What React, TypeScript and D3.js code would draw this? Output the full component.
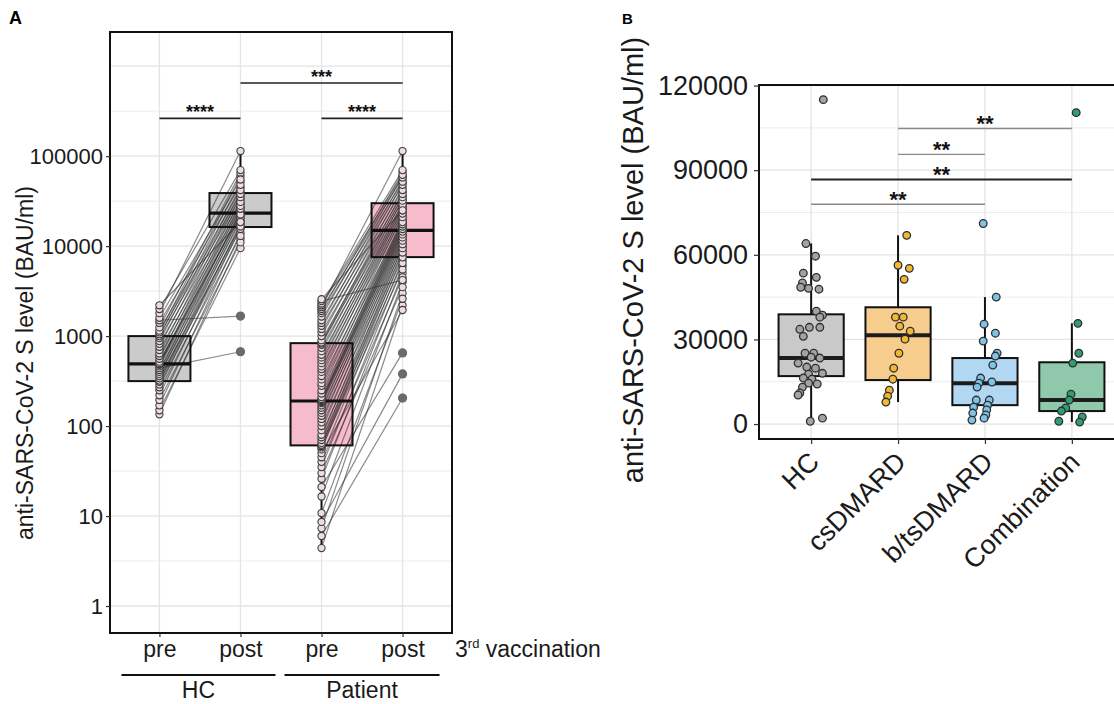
import React, { useEffect, useRef } from "react";
import * as d3 from "d3";

const W = 1114;
const H = 704;
const FONT = "'Liberation Sans', Arial, Helvetica, sans-serif";

// ---- Panel A: paired pre/post 3rd vaccination (log scale) ----
const categoriesA = ["HC pre", "HC post", "Patient pre", "Patient post"];
const tickLabelsA = ["pre", "post", "pre", "post"];
const groupLabelsA = ["HC", "Patient"];
const yTicksA = [1, 10, 100, 1000, 10000, 100000];

const hcPre = [
  135, 150, 170, 195, 220, 250, 270, 290, 310, 320, 340, 360, 380, 400, 420,
  440, 460, 480, 490, 500, 520, 560, 600, 640, 700, 760, 820, 880, 950, 1000,
  1050, 1100, 1150, 1250, 1400, 1500, 1600, 1800, 2000, 2200,
];
const hcPost = [
  12000, 9500, 14000, 11000, 16000, 13000, 18000, 15500, 17000, 20000, 16500,
  22000, 19000, 25000, 21000, 670, 23000, 27000, 24000, 30000, 22500, 33000,
  26000, 36000, 28000, 40000, 31000, 45000, 35000, 52000, 38000, 60000, 42000,
  65000, 48000, 1670, 55000, 114000, 70000, 18500,
];
const patientPre = [
  4.4, 6, 7.3, 8.6, 10.8, 16.5, 21, 26, 30, 35, 40, 45, 50, 55, 58, 60, 62, 65,
  70, 75, 80, 90, 100, 110, 120, 130, 140, 150, 160, 170, 180, 185, 190, 195,
  200, 210, 230, 250, 280, 300, 330, 360, 400, 430, 460, 500, 540, 580, 620,
  680, 740, 800, 830, 850, 900, 1000, 1100, 1200, 1300, 1400, 1500, 1650, 1800,
  1900, 2000, 2100, 2200, 2300, 2450, 2570,
];
const patientPost = [
  2200, 205, 3000, 380, 2600, 4000, 650, 5000, 3500, 6000, 4500, 7000, 1950,
  8000, 5500, 9000, 6500, 10000, 7500, 11000, 8500, 12000, 9500, 13000, 10500,
  14000, 11500, 15000, 12500, 16000, 13500, 17000, 14500, 18000, 15500, 19000,
  16500, 20000, 17500, 22000, 18500, 24000, 21000, 26000, 23000, 28000, 25000,
  30000, 27000, 33000, 29000, 36000, 32000, 40000, 35000, 45000, 38000, 50000,
  42000, 55000, 48000, 60000, 52000, 66000, 58000, 114000, 62000, 70000, 4200,
  25000,
];
// [lower whisker, q1, median, q3, upper whisker]
const boxStatsA = [
  [135, 316, 490, 1000, 2200],
  [9500, 16300, 23300, 38900, 114000],
  [4.4, 61, 190, 835, 2570],
  [1950, 7550, 15000, 30000, 114000],
];
const sigFromA = ["HC pre", "HC post", "Patient pre"];
const sigToA = ["HC post", "Patient post", "Patient post"];
const sigValueA = [263000, 650000, 263000];
const sigLabelA = ["****", "***", "****"];

// ---- Panel B: by treatment group (linear scale) ----
const groupsB = ["HC", "csDMARD", "b/tsDMARD", "Combination"];
const yTicksB = [0, 30000, 60000, 90000, 120000];
const hcValuesB = [
  115000, 64000, 59500, 53500, 52000, 50000, 48500, 48100, 47800, 40000, 38600,
  37900, 34300, 34300, 33600, 31100, 25100, 25100, 23700, 23400, 21600, 20200,
  19800, 18000, 17700, 16300, 15900, 14500, 14200, 13100, 11000, 10300, 1000,
  2100,
];
const hcJitterB = [
  0.14, -0.06, 0.05, -0.09, 0.06, -0.1, -0.12, -0.03, 0.09, 0.06, 0.13, 0.1,
  -0.02, 0.1, -0.13, -0.09, -0.07, 0.03, 0, 0.1, -0.15, -0.05, 0.05, 0.13,
  -0.03, -0.09, 0.01, -0.03, 0.07, -0.1, -0.13, -0.15, -0.01, 0.13,
];
const csValuesB = [
  66900, 56300, 55200, 51300, 37900, 37900, 34700, 32900, 30100, 25100, 19800,
  15900, 12000, 9900, 7800,
];
const csJitterB = [
  0.1, 0, 0.13, 0.07, -0.03, 0.06, 0.02, 0.14, 0.08, 0.01, -0.05, -0.06, -0.1,
  -0.12, -0.14,
];
const btsValuesB = [
  71100, 45000, 35400, 32200, 29400, 25100, 24100, 20900, 16300, 14900, 14500,
  13100, 8500, 8500, 6700, 6000, 5000, 3900, 3200, 1400, 2100,
];
const btsJitterB = [
  -0.02, 0.13, -0.01, 0.12, -0.02, 0.14, 0.12, 0.09, -0.05, 0.08, -0.07, -0.09,
  -0.1, 0.05, 0.03, -0.13, 0.02, -0.14, 0.01, -0.15, -0.01,
];
const comboValuesB = [110400, 35700, 25100, 21600, 10600, 8500, 5700, 4600, 1000, 2500, 700];
const comboJitterB = [0.05, 0.07, 0.08, 0.01, -0.01, -0.03, -0.07, -0.12, -0.15, 0.12, 0.09];
const boxStatsB = [
  [1000, 17000, 23400, 38900, 64000],
  [7800, 15600, 31500, 41400, 66900],
  [1400, 6700, 14500, 23400, 45000],
  [700, 4600, 8500, 21900, 35700],
];
const sigFromB = ["HC", "HC", "csDMARD", "csDMARD"];
const sigToB = ["b/tsDMARD", "Combination", "b/tsDMARD", "Combination"];
const sigValueB = [77900, 86700, 95600, 104800];
const sigLabelB = ["**", "**", "**", "**"];

// styles
const boxFillA = ["#cbcbcb", "#cbcbcb", "#f6bccb", "#f6bccb"];
const boxFillB = ["#c9c9c9", "#f6cd8c", "#b2d7f2", "#8fc8ab"];
const pointFillB = ["#a3a3a3", "#f2b733", "#7fc4e8", "#2f9e70"];
const sigStrokeB = ["#8a8a8a", "#222", "#8a8a8a", "#8a8a8a"];

type Sel = d3.Selection<SVGSVGElement, unknown, null, undefined>;

function drawPanelA(svg: Sel) {
  const frame = { left: 110, top: 32, right: 452, bottom: 633 };
  const x = d3
    .scalePoint<string>()
    .domain(categoriesA)
    .range([frame.left, frame.right])
    .padding(0.61);
  const y = d3
    .scaleLog()
    .domain([Math.pow(10, -0.3), Math.pow(10, 6.38)])
    .range([frame.bottom, frame.top]);

  const g = svg.append("g");

  // grid
  const minor = d3.range(0, 7).map((k) => Math.pow(10, k + 0.5)).filter((v) => v < y.domain()[1]);
  const major = d3.range(0, 7).map((k) => Math.pow(10, k));
  g.selectAll(".minA")
    .data(minor)
    .join("line")
    .attr("x1", frame.left)
    .attr("x2", frame.right)
    .attr("y1", (d) => y(d))
    .attr("y2", (d) => y(d))
    .attr("stroke", "#ececec")
    .attr("stroke-width", 1);
  g.selectAll(".majA")
    .data(major)
    .join("line")
    .attr("x1", frame.left)
    .attr("x2", frame.right)
    .attr("y1", (d) => y(d))
    .attr("y2", (d) => y(d))
    .attr("stroke", "#e4e4e4")
    .attr("stroke-width", 1.3);
  g.selectAll(".vA")
    .data(categoriesA)
    .join("line")
    .attr("x1", (d) => x(d)!)
    .attr("x2", (d) => x(d)!)
    .attr("y1", frame.top)
    .attr("y2", frame.bottom)
    .attr("stroke", "#e4e4e4")
    .attr("stroke-width", 1.3);

  const bw = x.step() * 0.765;

  // box fills
  g.selectAll(".boxFillA")
    .data(boxStatsA)
    .join("rect")
    .attr("x", (d, i) => x(categoriesA[i])! - bw / 2)
    .attr("y", (d) => y(d[3]))
    .attr("width", bw)
    .attr("height", (d) => y(d[1]) - y(d[3]))
    .attr("fill", (d, i) => boxFillA[i]);

  // paired lines
  const pairs = [
    ...hcPre.map((v, i) => ({ a: "HC pre", b: "HC post", pre: v, post: hcPost[i] })),
    ...patientPre.map((v, i) => ({ a: "Patient pre", b: "Patient post", pre: v, post: patientPost[i] })),
  ];
  g.selectAll(".pair")
    .data(pairs)
    .join("line")
    .attr("x1", (d) => x(d.a)!)
    .attr("y1", (d) => y(d.pre))
    .attr("x2", (d) => x(d.b)!)
    .attr("y2", (d) => y(d.post))
    .attr("stroke", "#2a2a2a")
    .attr("stroke-opacity", 0.55)
    .attr("stroke-width", 1.2);

  // whiskers, box outline, median
  boxStatsA.forEach((s, i) => {
    const cx = x(categoriesA[i])!;
    g.append("line")
      .attr("x1", cx).attr("x2", cx)
      .attr("y1", y(s[3])).attr("y2", y(s[4]))
      .attr("stroke", "#111").attr("stroke-width", 2);
    g.append("line")
      .attr("x1", cx).attr("x2", cx)
      .attr("y1", y(s[1])).attr("y2", y(s[0]))
      .attr("stroke", "#111").attr("stroke-width", 2);
    g.append("rect")
      .attr("x", cx - bw / 2)
      .attr("y", y(s[3]))
      .attr("width", bw)
      .attr("height", y(s[1]) - y(s[3]))
      .attr("fill", "none")
      .attr("stroke", "#111")
      .attr("stroke-width", 2);
    g.append("line")
      .attr("x1", cx - bw / 2).attr("x2", cx + bw / 2)
      .attr("y1", y(s[2])).attr("y2", y(s[2]))
      .attr("stroke", "#111").attr("stroke-width", 3.2);
  });

  // points
  const cols = [hcPre, hcPost, patientPre, patientPost];
  const pts = cols.flatMap((arr, i) => arr.map((v) => ({ cat: categoriesA[i], v, i })));
  g.selectAll(".ptA")
    .data(pts)
    .join("circle")
    .attr("cx", (d) => x(d.cat)!)
    .attr("cy", (d) => y(d.v))
    .attr("r", 3.6)
    .attr("fill", "#eddde2")
    .attr("stroke", "#3a3a3a")
    .attr("stroke-width", 1.1);
  const outliers = pts.filter((d) => d.v < boxStatsA[d.i][0] || d.v > boxStatsA[d.i][4]);
  g.selectAll(".outA")
    .data(outliers)
    .join("circle")
    .attr("cx", (d) => x(d.cat)!)
    .attr("cy", (d) => y(d.v))
    .attr("r", 4.6)
    .attr("fill", "#6a6a6a");

  // significance
  sigValueA.forEach((v, i) => {
    const x1 = x(sigFromA[i])!;
    const x2 = x(sigToA[i])!;
    g.append("line")
      .attr("x1", x1).attr("x2", x2)
      .attr("y1", y(v)).attr("y2", y(v))
      .attr("stroke", "#222").attr("stroke-width", 1.6);
    g.append("text")
      .attr("x", (x1 + x2) / 2)
      .attr("y", y(v))
      .attr("text-anchor", "middle")
      .style("font-family", FONT)
      .style("font-size", "18px")
      .style("font-weight", "bold")
      .attr("fill", "#111")
      .text(sigLabelA[i]);
  });

  // frame
  g.append("rect")
    .attr("x", frame.left)
    .attr("y", frame.top)
    .attr("width", frame.right - frame.left)
    .attr("height", frame.bottom - frame.top)
    .attr("fill", "none")
    .attr("stroke", "#111")
    .attr("stroke-width", 2);

  // axes
  const yAxis = g
    .append("g")
    .attr("transform", `translate(${frame.left},0)`)
    .call(
      d3.axisLeft(y).tickValues(yTicksA).tickFormat(d3.format("d")).tickSize(4).tickPadding(3)
    );
  yAxis.select(".domain").remove();
  yAxis.selectAll("line").attr("stroke", "#333").attr("stroke-width", 1.2);
  yAxis.selectAll("text").style("font-family", FONT).style("font-size", "22px").attr("fill", "#1a1a1a");

  const xAxis = g
    .append("g")
    .attr("transform", `translate(0,${frame.bottom})`)
    .call(
      d3.axisBottom(x).tickFormat((d, i) => tickLabelsA[i]).tickSize(4).tickPadding(4)
    );
  xAxis.select(".domain").remove();
  xAxis.selectAll("line").attr("stroke", "#333").attr("stroke-width", 1.2);
  xAxis.selectAll("text").style("font-family", FONT).style("font-size", "23px").attr("fill", "#1a1a1a");

  const label = g
    .append("text")
    .attr("x", 455)
    .attr("y", 657)
    .style("font-family", FONT)
    .style("font-size", "23px")
    .attr("fill", "#1a1a1a");
  label.append("tspan").text("3");
  label.append("tspan").attr("dy", -9).style("font-size", "13px").text("rd");
  label.append("tspan").attr("dy", 9).text(" vaccination");

  // group brackets
  const groupSpans = [
    [x("HC pre")! - 38, x("HC post")! + 35],
    [x("Patient pre")! - 37, x("Patient post")! + 37],
  ];
  groupSpans.forEach((s, i) => {
    g.append("line")
      .attr("x1", s[0]).attr("x2", s[1])
      .attr("y1", 675).attr("y2", 675)
      .attr("stroke", "#111").attr("stroke-width", 2);
    g.append("text")
      .attr("x", (s[0] + s[1]) / 2)
      .attr("y", 698)
      .attr("text-anchor", "middle")
      .style("font-family", FONT)
      .style("font-size", "23px")
      .attr("fill", "#1a1a1a")
      .text(groupLabelsA[i]);
  });

  g.append("text")
    .attr("transform", "translate(25,363) rotate(-90)")
    .attr("text-anchor", "middle")
    .attr("dy", "0.35em")
    .style("font-family", FONT)
    .style("font-size", "23px")
    .attr("fill", "#1a1a1a")
    .text("anti-SARS-CoV-2 S level (BAU/ml)");

  g.append("text")
    .attr("x", 9)
    .attr("y", 24)
    .style("font-family", FONT)
    .style("font-size", "18px")
    .style("font-weight", "bold")
    .text("A");
}

function drawPanelB(svg: Sel) {
  const frame = { left: 759, top: 85, right: 1124, bottom: 439 };
  const x = d3
    .scalePoint<string>()
    .domain(groupsB)
    .range([frame.left, frame.right])
    .padding(0.6);
  const y = d3.scaleLinear().domain([-5300, 120200]).range([frame.bottom, frame.top]);

  const g = svg.append("g");

  const minor = d3.range(15000, 120000, 30000);
  g.selectAll(".minB")
    .data(minor)
    .join("line")
    .attr("x1", frame.left)
    .attr("x2", frame.right)
    .attr("y1", (d) => y(d))
    .attr("y2", (d) => y(d))
    .attr("stroke", "#ececec")
    .attr("stroke-width", 1);
  g.selectAll(".majB")
    .data(yTicksB)
    .join("line")
    .attr("x1", frame.left)
    .attr("x2", frame.right)
    .attr("y1", (d) => y(d))
    .attr("y2", (d) => y(d))
    .attr("stroke", "#e4e4e4")
    .attr("stroke-width", 1.3);
  g.selectAll(".vB")
    .data(groupsB)
    .join("line")
    .attr("x1", (d) => x(d)!)
    .attr("x2", (d) => x(d)!)
    .attr("y1", frame.top)
    .attr("y2", frame.bottom)
    .attr("stroke", "#e4e4e4")
    .attr("stroke-width", 1.3);

  const bw = x.step() * 0.75;
  boxStatsB.forEach((s, i) => {
    const cx = x(groupsB[i])!;
    g.append("line")
      .attr("x1", cx).attr("x2", cx)
      .attr("y1", y(s[4])).attr("y2", y(s[0]))
      .attr("stroke", "#111").attr("stroke-width", 2);
    g.append("rect")
      .attr("x", cx - bw / 2)
      .attr("y", y(s[3]))
      .attr("width", bw)
      .attr("height", y(s[1]) - y(s[3]))
      .attr("fill", boxFillB[i])
      .attr("stroke", "#111")
      .attr("stroke-width", 2);
    g.append("line")
      .attr("x1", cx - bw / 2).attr("x2", cx + bw / 2)
      .attr("y1", y(s[2])).attr("y2", y(s[2]))
      .attr("stroke", "#1c1c1c").attr("stroke-width", 4);
  });

  const values = [hcValuesB, csValuesB, btsValuesB, comboValuesB];
  const jitters = [hcJitterB, csJitterB, btsJitterB, comboJitterB];
  const pts = values.flatMap((arr, i) =>
    arr.map((v, k) => ({ g: groupsB[i], i, v, j: jitters[i][k] }))
  );
  g.selectAll(".ptB")
    .data(pts)
    .join("circle")
    .attr("cx", (d) => x(d.g)! + d.j * x.step())
    .attr("cy", (d) => y(d.v))
    .attr("r", 3.8)
    .attr("fill", (d) => pointFillB[d.i])
    .attr("stroke", "#2e2e2e")
    .attr("stroke-width", 1.3);

  sigValueB.forEach((v, i) => {
    const x1 = x(sigFromB[i])!;
    const x2 = x(sigToB[i])!;
    g.append("line")
      .attr("x1", x1).attr("x2", x2)
      .attr("y1", y(v)).attr("y2", y(v))
      .attr("stroke", sigStrokeB[i]).attr("stroke-width", i === 1 ? 1.8 : 1.4);
    g.append("text")
      .attr("x", (x1 + x2) / 2)
      .attr("y", y(v) + 3)
      .attr("text-anchor", "middle")
      .style("font-family", FONT)
      .style("font-size", "22px")
      .style("font-weight", "bold")
      .attr("fill", "#111")
      .text(sigLabelB[i]);
  });

  // frame
  g.append("rect")
    .attr("x", frame.left)
    .attr("y", frame.top)
    .attr("width", frame.right - frame.left)
    .attr("height", frame.bottom - frame.top)
    .attr("fill", "none")
    .attr("stroke", "#111")
    .attr("stroke-width", 2);

  const yAxis = g
    .append("g")
    .attr("transform", `translate(${frame.left},0)`)
    .call(d3.axisLeft(y).tickValues(yTicksB).tickFormat(d3.format("d")).tickSize(5).tickPadding(6));
  yAxis.select(".domain").remove();
  yAxis.selectAll("line").attr("stroke", "#333").attr("stroke-width", 1.2);
  yAxis.selectAll("text").style("font-family", FONT).style("font-size", "27px").attr("fill", "#1a1a1a");

  const xAxis = g
    .append("g")
    .attr("transform", `translate(0,${frame.bottom})`)
    .call(d3.axisBottom(x).tickSize(5).tickFormat(() => ""));
  xAxis.select(".domain").remove();
  xAxis.selectAll("line").attr("stroke", "#333").attr("stroke-width", 1.2);

  g.selectAll(".xlabB")
    .data(groupsB)
    .join("text")
    .attr("transform", (d) => `translate(${x(d)! - 4},${frame.bottom + 11}) rotate(-45)`)
    .attr("text-anchor", "end")
    .attr("dy", "0.71em")
    .style("font-family", FONT)
    .style("font-size", "27px")
    .attr("fill", "#1a1a1a")
    .text((d) => d);

  g.append("text")
    .attr("transform", "translate(633,260) rotate(-90)")
    .attr("text-anchor", "middle")
    .attr("dy", "0.35em")
    .style("font-family", FONT)
    .style("font-size", "29px")
    .attr("fill", "#1a1a1a")
    .text("anti-SARS-CoV-2 S level (BAU/ml)");

  g.append("text")
    .attr("x", 622)
    .attr("y", 24)
    .style("font-family", FONT)
    .style("font-size", "15px")
    .style("font-weight", "bold")
    .text("B");
}

export default function App() {
  const ref = useRef<SVGSVGElement>(null);

  useEffect(() => {
    const svg = d3.select(ref.current!) as Sel;
    svg.selectAll("*").remove();
    svg.append("rect").attr("width", W).attr("height", H).attr("fill", "#fff");
    drawPanelA(svg);
    drawPanelB(svg);
    return () => {
      svg.selectAll("*").remove();
    };
  }, []);

  return (
    <svg
      ref={ref}
      width={W}
      height={H}
      style={{ position: "absolute", left: 0, top: 0, display: "block" }}
    />
  );
}
